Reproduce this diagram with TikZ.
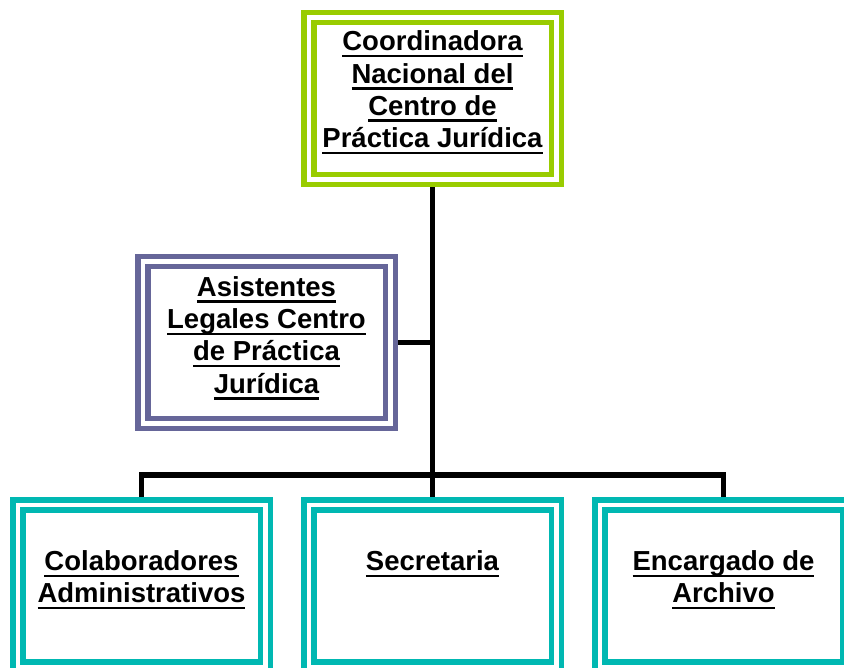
\documentclass[tikz,border=0pt]{standalone}
\usepackage{fontspec}
\setmainfont{Liberation Sans}
\usepackage{tikz}
\usetikzlibrary{calc}
\newcommand{\subraya}[1]{\setbox0\hbox{#1}\rlap{\rule[-6.5pt]{\wd0}{2.5pt}}\box0}
\definecolor{cargo}{RGB}{153,204,0}
\definecolor{asesor}{RGB}{102,102,153}
\definecolor{apoyo}{RGB}{0,184,178}

\begin{document}
\begin{tikzpicture}[x=1pt,y=-1pt,
	caja/.style={draw=#1,double=white,line width=5.5pt,double distance=4.5pt,minimum width=247.5pt,minimum height=162pt,inner sep=0pt,outer sep=7.75pt},
	rotulo/.style={font=\bfseries\fontsize{27.5}{32.3}\selectfont,align=center,anchor=north,inner sep=0pt},
	linea/.style={line width=5.5pt,black}]
	\useasboundingbox (0,0) rectangle (844,668);
	\clip (0,0) rectangle (844,668);
	\node[caja=cargo] (coord) at (432.5,98.5) {};
	\node[caja=asesor] (asist) at (266.5,342.5) {};
	\node[caja=apoyo] (colab) at (141.5,585.75) {};
	\node[caja=apoyo] (secre) at (432.5,585.75) {};
	\node[caja=apoyo] (archi) at (723.5,585.75) {};
	\node[rotulo] (coordtxt) at ($(coord.north)+(0,21)$) {\subraya{Coordinadora}\\\subraya{Nacional del}\\\subraya{Centro de}\\\subraya{Práctica Jurídica}};
	\node[rotulo] (asisttxt) at ($(asist.north)+(0,22.5)$) {\subraya{Asistentes}\\\subraya{Legales Centro}\\\subraya{de Práctica}\\\subraya{Jurídica}};
	\node[rotulo] (colabtxt) at ($(colab.north)+(0,53.5)$) {\subraya{Colaboradores}\\\subraya{Administrativos}};
	\node[rotulo] (secretxt) at ($(secre.north)+(0,53.5)$) {\subraya{Secretaria}};
	\node[rotulo] (architxt) at ($(archi.north)+(0,53.5)$) {\subraya{Encargado de}\\\subraya{Archivo}};
	\coordinate (bus) at (432.5,475);
	\draw[linea] (coord.south) -- (secre.north);
	\draw[linea] (asist.east) -- (asist.east -| coord.south);
	\draw[linea] (colab.north) -- (colab.north |- bus) -- (archi.north |- bus) -- (archi.north);
\end{tikzpicture}
\end{document}
